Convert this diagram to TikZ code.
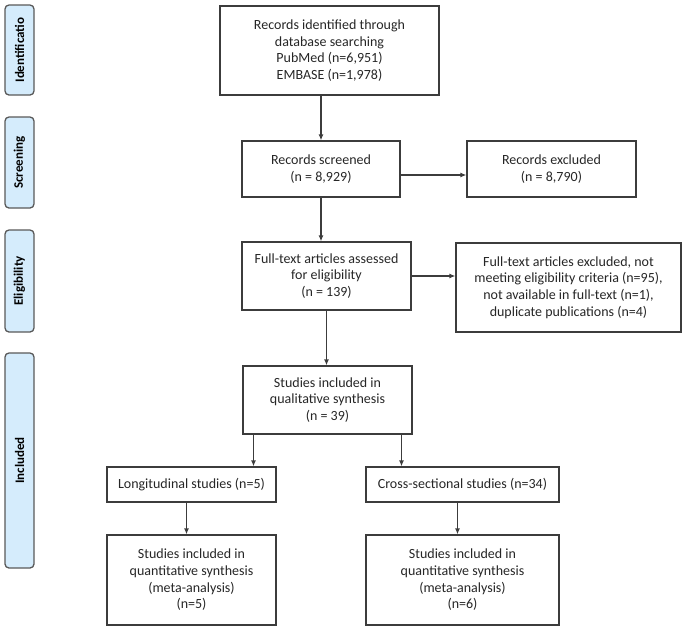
\documentclass[tikz,border=0pt]{standalone}
\usepackage{fontspec}
\setmainfont{Carlito}
\usepackage{xcolor}
\definecolor{boxline}{HTML}{3C3C3C}
\definecolor{phasefill}{HTML}{D5ECFC}
\usepackage{tikz}
\usetikzlibrary{positioning}
\usetikzlibrary{arrows.meta}
\begin{document}
\begin{tikzpicture}[x=1pt,y=-1pt,
	box/.style={draw=boxline,line width=1.2pt,align=center,inner sep=0,text=black!85,font=\fontsize{14}{16.7}\selectfont},
	phase/.style={draw=boxline!85,fill=phasefill,line width=1.3pt,rounded corners=4pt,rotate=90,inner sep=0,minimum height=29pt,font=\bfseries\fontsize{13}{15}\selectfont},
	flow/.style={-{Latex[length=6pt,width=5pt]},draw=boxline,line width=1.2pt}]
	\useasboundingbox (0,0) rectangle (686,630);
	\node (pI) [phase,minimum width=90pt] at (19.5,50) {Identificatio};
	\node (pS) [phase,minimum width=91pt] at (19.5,162.5) {Screening};
	\node (pE) [phase,minimum width=102pt] at (19.5,281) {Eligibility};
	\node (pN) [phase,minimum width=215pt] at (19.5,460.5) {Included};
	\node (ident) [box,minimum width=219pt,minimum height=89pt] at (329.5,50.5) {Records identified through\\database searching\\PubMed (n=6,951)\\EMBASE (n=1,978)};
	\node (screen) [box,minimum width=158pt,minimum height=56pt] at (321,169) {Records screened\\(n = 8,929)};
	\node (excl) [box,minimum width=169pt,minimum height=56pt] at (551.5,169) {Records excluded\\(n = 8,790)};
	\node (full) [box,minimum width=169pt,minimum height=68pt] at (326.5,276) {Full-text articles assessed\\for eligibility\\(n = 139)};
	\node (fullx) [box,minimum width=225pt,minimum height=89pt] at (568.5,287.5) {Full-text articles excluded, not\\meeting eligibility criteria (n=95),\\not available in full-text (n=1),\\duplicate publications (n=4)};
	\node (qual) [box,minimum width=169pt,minimum height=68pt] at (327.5,400) {Studies included in\\qualitative synthesis\\(n = 39)};
	\node (longi) [box,minimum width=169pt,minimum height=35pt] at (191.5,484.5) {Longitudinal studies (n=5)};
	\node (cross) [box,minimum width=193pt,minimum height=35pt] at (462.5,484.5) {Cross-sectional studies (n=34)};
	\node (metaL) [box,minimum width=169pt,minimum height=90pt] at (191.5,580) {Studies included in\\quantitative synthesis\\(meta-analysis)\\(n=5)};
	\node (metaC) [box,minimum width=193pt,minimum height=90pt] at (462.5,580) {Studies included in\\quantitative synthesis\\(meta-analysis)\\(n=6)};
	\draw[flow] (ident.south -| screen.north) -- (screen.north);
	\draw[flow] ([yshift=-6pt]screen.east) -- ([yshift=-6pt]screen.east -| excl.west);
	\draw[flow] (screen.south) -- (screen.south |- full.north);
	\draw[flow] (full.east) -- (full.east -| fullx.west);
	\draw[flow] (full.south) -- (full.south |- qual.north);
	\draw[flow] ([xshift=-74pt]qual.south) -- ([xshift=-74pt]qual.south |- longi.north);
	\draw[flow] ([xshift=74pt]qual.south) -- ([xshift=74pt]qual.south |- cross.north);
	\draw[flow] ([xshift=-5pt]longi.south) -- ([xshift=-5pt]longi.south |- metaL.north);
	\draw[flow] ([xshift=-5pt]cross.south) -- ([xshift=-5pt]cross.south |- metaC.north);
\end{tikzpicture}
\end{document}
